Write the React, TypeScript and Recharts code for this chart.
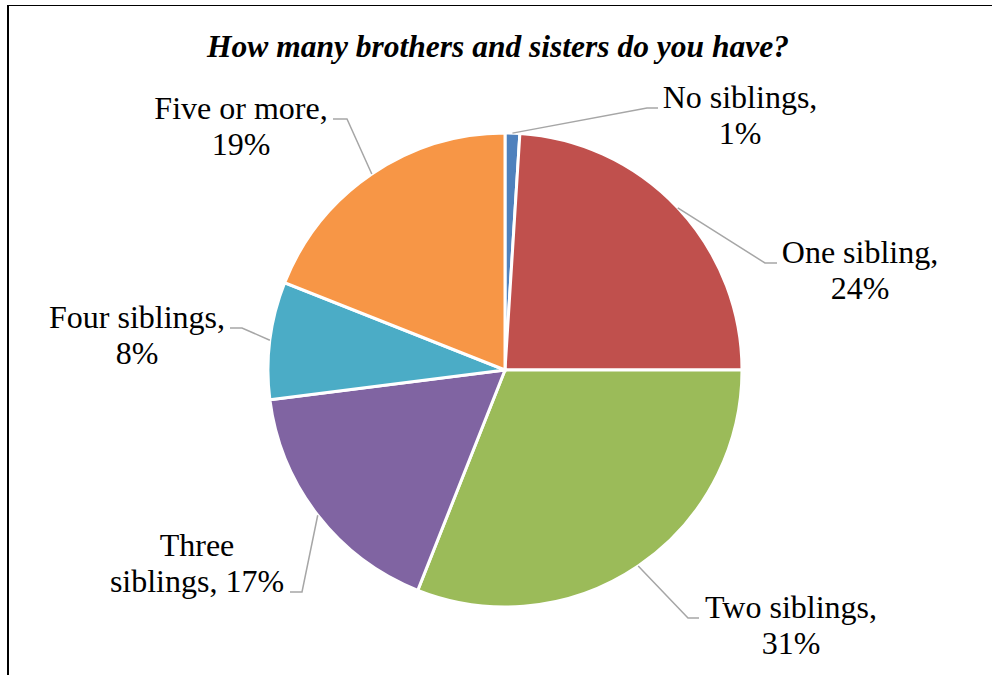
import { PieChart, Pie, Cell } from "recharts";

const categories = ["No siblings", "One sibling", "Two siblings", "Three siblings", "Four siblings", "Five or more"];
const percents = [1, 24, 31, 17, 8, 19];
const colors = ["#4F81BD", "#C0504D", "#9BBB59", "#8064A2", "#4BACC6", "#F79646"];

// label text lines per slice (Excel breaks these differently)
const labelLines = [
  ["No siblings,", "1%"],
  ["One sibling,", "24%"],
  ["Two siblings,", "31%"],
  ["Three", "siblings, 17%"],
  ["Four siblings,", "8%"],
  ["Five or more,", "19%"],
];

// label placement relative to the pie centre: elbow x, line end x, line y, text centre x, first baseline
const labelLayout = [
  { ex: 142, lx: 153, ly: -262, tx: 235, ty: -262 },
  { ex: 260, lx: 272, ly: -107, tx: 355, ty: -107 },
  { ex: 183, lx: 194, ly: 248, tx: 286, ty: 248 },
  { ex: -203, lx: -215, ly: 222, tx: -308, ty: 186 },
  { ex: -263, lx: -275, ly: -42, tx: -368, ty: -42 },
  { ex: -158, lx: -172, ly: -251, tx: -264, ty: -251 },
];

const data = categories.map((name, i) => ({ name, value: percents[i] }));

const RAD = Math.PI / 180;
const FONT = "Liberation Serif, Times New Roman, serif";

const renderLabel = (props: any) => {
  const { cx, cy, midAngle, outerRadius, index } = props;
  const sx = cx + outerRadius * Math.cos(-midAngle * RAD);
  const sy = cy + outerRadius * Math.sin(-midAngle * RAD);
  const l = labelLayout[index];
  const lines = labelLines[index];
  return (
    <g>
      <polyline
        points={`${sx},${sy} ${cx + l.ex},${cy + l.ly} ${cx + l.lx},${cy + l.ly}`}
        fill="none"
        stroke="#A6A6A6"
        strokeWidth={1.5}
      />
      <text
        x={cx + l.tx}
        y={cy + l.ty}
        textAnchor="middle"
        style={{ fontFamily: FONT, fontSize: 32 }}
        fill="#000"
      >
        {lines.map((t, k) => (
          <tspan key={k} x={cx + l.tx} dy={k === 0 ? 0 : 36}>
            {t}
          </tspan>
        ))}
      </text>
    </g>
  );
};

const App = () => {
  return (
    <div style={{ position: "absolute", left: 0, top: 0, width: 992, height: 675, background: "#fff" }}>
      <div
        style={{
          position: "absolute",
          left: 7,
          top: 5,
          right: 0,
          bottom: -10,
          borderTop: "1.5px solid #000",
          borderLeft: "2px solid #000",
        }}
      />
      <PieChart
        width={992}
        height={675}
        margin={{ top: 0, right: 0, bottom: 0, left: 0 }}
        style={{ position: "absolute", left: 0, top: 0 }}
      >
        <text
          x={498}
          y={57}
          textAnchor="middle"
          style={{ fontFamily: FONT, fontWeight: "bold", fontStyle: "italic", fontSize: 31.5 }}
          fill="#000"
        >
          How many brothers and sisters do you have?
        </text>
        <Pie
          data={data}
          dataKey="value"
          nameKey="name"
          cx={505}
          cy={370}
          outerRadius={237}
          startAngle={90}
          endAngle={-270}
          stroke="#fff"
          strokeWidth={3}
          label={renderLabel}
          labelLine={false}
          isAnimationActive={false}
        >
          {data.map((d, i) => (
            <Cell key={d.name} fill={colors[i]} />
          ))}
        </Pie>
      </PieChart>
    </div>
  );
};

export default App;
